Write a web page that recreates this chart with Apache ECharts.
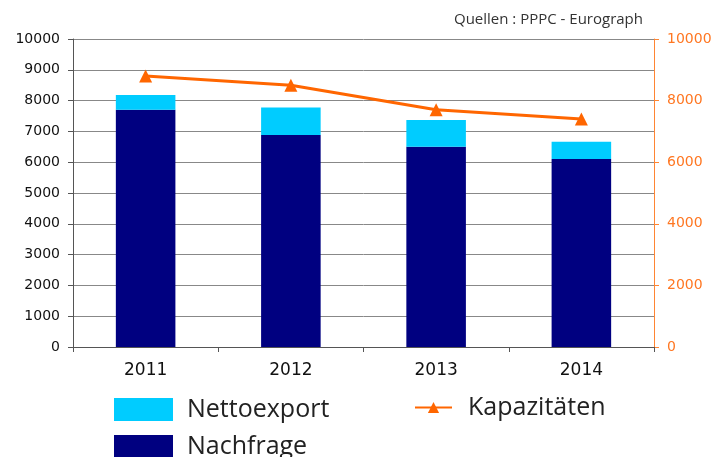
<!DOCTYPE html>
<html>
<head>
<meta charset="utf-8">
<script src="https://cdn.jsdelivr.net/npm/echarts@6/dist/echarts.min.js"></script>
<style>html,body{margin:0;padding:0;background:#fff}#c{width:715px;height:457px}</style>
</head>
<body>
<div id="c"></div>
<script>
var categories = ['2011', '2012', '2013', '2014'];
var nachfrage = [7700, 6880, 6500, 6100];
var nettoexport = [480, 900, 870, 560];
var kapazitaeten = [8800, 8500, 7700, 7400];
var leftTicks = [0, 10000, 1000];
var rightTicks = [0, 10000, 2000];

var legendText = {fontFamily: 'Open Sans', fontSize: 25, color: '#222'};
var chart = echarts.init(document.getElementById('c'));
chart.setOption({
  animation: false,
  backgroundColor: '#fff',
  title: {
    text: 'Quellen : PPPC - Eurograph',
    right: 72, top: 12, padding: 0,
    textStyle: {fontFamily: 'Open Sans', fontSize: 15, fontWeight: 'normal', color: '#333'}
  },
  grid: {left: 73, right: 61, top: 39, bottom: 110, containLabel: false},
  legend: [{
    data: ['Nettoexport'], left: 114, top: 397, padding: 0,
    itemWidth: 59, itemHeight: 23, icon: 'rect',
    textStyle: Object.assign({padding: [0, 0, 0, 9]}, legendText)
  }, {
    data: ['Nachfrage'], left: 114, top: 434, padding: 0,
    itemWidth: 59, itemHeight: 23, icon: 'rect',
    textStyle: Object.assign({padding: [0, 0, 0, 9]}, legendText)
  }, {
    data: ['Kapazitäten'], left: 414, top: 395, padding: 0,
    itemWidth: 37, itemHeight: 14,
    textStyle: Object.assign({padding: [0, 0, 0, 11]}, legendText)
  }],
  xAxis: {
    type: 'category', data: categories, boundaryGap: true,
    axisLine: {lineStyle: {color: '#555', width: 1}},
    axisTick: {show: true, length: 5, lineStyle: {color: '#555'}},
    axisLabel: {fontFamily: 'DejaVu Sans', fontSize: 17, color: '#111', margin: 15}
  },
  yAxis: [{
    type: 'value', min: leftTicks[0], max: leftTicks[1], interval: leftTicks[2],
    axisLine: {show: true, lineStyle: {color: '#555'}},
    axisTick: {show: true, length: 5, lineStyle: {color: '#555'}},
    splitLine: {lineStyle: {color: '#888', width: 1}},
    axisLabel: {fontFamily: 'DejaVu Sans', fontSize: 14, color: '#111', margin: 13,
      formatter: function (v) { return String(v); }}
  }, {
    type: 'value', min: rightTicks[0], max: rightTicks[1], interval: rightTicks[2],
    position: 'right',
    axisLine: {show: true, lineStyle: {color: '#ff8533'}},
    axisTick: {show: true, length: 5, lineStyle: {color: '#ff8533'}},
    splitLine: {show: false},
    axisLabel: {fontFamily: 'DejaVu Sans', fontSize: 14, color: '#ff7722', margin: 13,
      formatter: function (v) { return String(v); }}
  }],
  series: [{
    name: 'Nachfrage', type: 'bar', stack: 'a', data: nachfrage, barWidth: '41%',
    itemStyle: {color: '#000080'}
  }, {
    name: 'Nettoexport', type: 'bar', stack: 'a', data: nettoexport, barWidth: '41%',
    itemStyle: {color: '#00ccff'}
  }, {
    name: 'Kapazitäten', type: 'line', yAxisIndex: 1, data: kapazitaeten,
    symbol: 'triangle', symbolSize: 13,
    lineStyle: {color: '#ff6600', width: 3},
    itemStyle: {color: '#ff6600'}
  }]
});
</script>
</body>
</html>
